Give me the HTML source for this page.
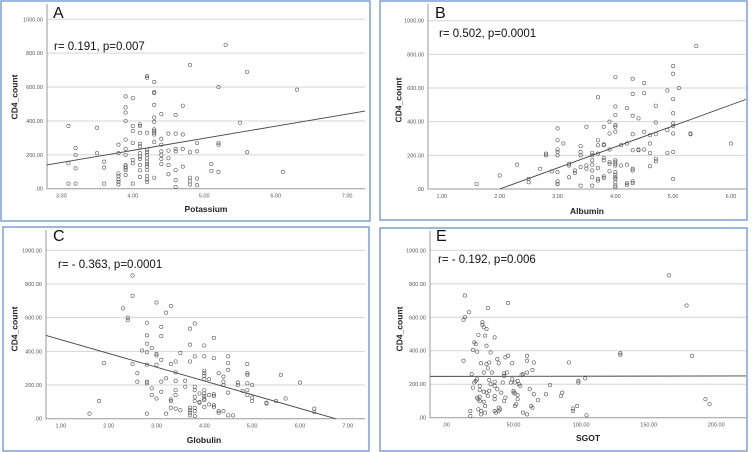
<!DOCTYPE html>
<html><head><meta charset="utf-8"><style>
html,body{margin:0;padding:0;background:#fff;}
svg{display:block;font-family:"Liberation Sans",sans-serif;}
</style></head><body>
<svg id="chart" width="753" height="452" viewBox="0 0 753 452" xmlns="http://www.w3.org/2000/svg"></svg>
<script>
const yTicks = [0,200,400,600,800,1000];
const yTickLabels = [".00","200.00","400.00","600.00","800.00","1000.00"];

const aTicks = [3,4,5,6,7];
const aTickLabels = ["3.00","4.00","5.00","6.00","7.00"];
const aX = [3.1,3.1,3.1,3.2,3.2,3.2,3.2,3.5,3.5,3.6,3.6,3.6,3.8,3.8,3.8,3.8,3.8,3.8,3.8,3.9,3.9,3.9,3.9,3.9,3.9,3.9,3.9,3.9,3.9,3.9,3.9,4.0,4.0,4.0,4.0,4.0,4.0,4.0,4.1,4.1,4.1,4.1,4.1,4.1,4.1,4.1,4.1,4.1,4.1,4.2,4.2,4.2,4.2,4.2,4.2,4.2,4.2,4.2,4.2,4.2,4.2,4.2,4.2,4.3,4.3,4.3,4.3,4.3,4.3,4.3,4.3,4.3,4.3,4.3,4.3,4.4,4.4,4.4,4.4,4.4,4.4,4.4,4.5,4.5,4.5,4.5,4.5,4.6,4.6,4.6,4.6,4.6,4.6,4.6,4.7,4.7,4.7,4.7,4.8,4.8,4.8,4.8,4.8,4.9,4.9,4.9,4.9,5.1,5.1,5.2,5.2,5.2,5.2,5.3,5.5,5.6,5.6,6.1,6.3];
const aY = [370,150,30,240,200,120,30,360,210,160,125,30,260,210,90,75,55,40,25,545,480,450,400,290,235,200,140,130,120,110,80,535,370,340,270,170,150,30,380,370,330,265,250,210,190,175,140,110,70,665,655,330,230,215,200,180,160,145,130,110,75,55,40,630,570,565,495,420,395,350,340,330,320,275,65,440,295,260,220,200,175,145,325,225,180,140,85,435,325,235,220,110,50,10,490,320,235,130,730,215,65,45,25,270,220,60,20,145,105,600,270,260,100,850,390,690,215,100,585];
const aFit = [71.5,-60];

const bTicks = [1,2,3,4,5,6];
const bTickLabels = ["1.00","2.00","3.00","4.00","5.00","6.00"];
const bX = [1.6,2.0,2.3,2.5,2.5,2.7,2.8,2.8,2.9,3.0,3.0,3.0,3.0,3.0,3.0,3.0,3.0,3.0,3.1,3.2,3.2,3.2,3.3,3.3,3.4,3.4,3.4,3.4,3.4,3.5,3.5,3.5,3.6,3.6,3.6,3.6,3.6,3.6,3.6,3.7,3.7,3.7,3.7,3.7,3.7,3.7,3.8,3.8,3.8,3.8,3.8,3.8,3.8,3.9,3.9,3.9,3.9,3.9,3.9,4.0,4.0,4.0,4.0,4.0,4.0,4.0,4.0,4.0,4.0,4.0,4.0,4.0,4.0,4.0,4.0,4.0,4.1,4.1,4.2,4.2,4.2,4.2,4.2,4.3,4.3,4.3,4.3,4.3,4.3,4.3,4.3,4.3,4.4,4.4,4.4,4.5,4.5,4.5,4.5,4.6,4.6,4.6,4.6,4.7,4.7,4.7,4.7,4.7,4.9,4.9,4.9,5.0,5.0,5.0,5.0,5.0,5.0,5.0,5.0,5.0,5.1,5.3,5.3,5.4,6.0];
const bY = [30,80,145,60,40,120,210,200,105,360,290,235,220,200,100,45,30,30,270,150,140,70,110,95,255,220,200,130,20,370,140,120,215,200,170,145,110,70,20,545,290,260,210,125,60,50,370,265,260,185,170,75,65,400,330,235,160,150,105,665,490,440,380,370,340,170,160,150,140,100,85,70,60,40,20,10,260,140,480,270,145,35,25,655,565,435,325,230,120,110,45,35,420,235,230,630,570,340,235,320,270,215,135,495,395,325,180,165,585,350,215,730,685,535,450,390,375,330,220,60,600,330,325,850,270];
const bFit = [125,-250];

const cTicks = [1,2,3,4,5,6,7];
const cTickLabels = ["1.00","2.00","3.00","4.00","5.00","6.00","7.00"];
const cX = [1.6,1.8,1.9,2.3,2.4,2.4,2.5,2.5,2.5,2.6,2.6,2.7,2.8,2.8,2.8,2.8,2.8,2.8,2.8,2.8,2.9,2.9,2.9,3.0,3.0,3.0,3.0,3.0,3.1,3.1,3.1,3.1,3.1,3.2,3.2,3.2,3.3,3.3,3.3,3.3,3.3,3.4,3.4,3.4,3.4,3.4,3.4,3.5,3.5,3.6,3.6,3.7,3.7,3.7,3.7,3.7,3.7,3.7,3.8,3.8,3.8,3.8,3.8,3.8,3.8,3.8,3.8,3.9,3.9,3.9,4.0,4.0,4.0,4.0,4.0,4.0,4.0,4.0,4.0,4.0,4.0,4.0,4.1,4.1,4.1,4.2,4.2,4.2,4.2,4.2,4.2,4.3,4.3,4.3,4.4,4.4,4.4,4.4,4.5,4.5,4.5,4.5,4.5,4.6,4.7,4.7,4.8,4.9,4.9,4.9,4.9,4.9,4.9,5.0,5.0,5.0,5.3,5.3,5.5,5.6,5.7,6.0,6.3,6.3];
const cY = [30,105,330,655,600,585,850,730,325,270,220,405,570,495,445,395,320,220,210,30,420,180,140,690,385,375,320,120,545,490,350,220,160,630,240,30,670,325,115,105,65,340,275,225,170,140,60,390,50,225,190,535,440,340,65,50,35,20,565,370,190,170,130,105,65,45,15,150,100,95,435,370,285,270,255,235,170,150,135,120,110,70,235,140,85,480,360,145,135,80,70,270,45,35,250,220,200,45,370,330,290,155,20,20,215,200,165,325,270,260,210,170,140,200,125,105,95,90,105,260,120,215,60,40];
const cFit = [-81.7,551];

const eTicks = [0,50,100,150,200];
const eTickLabels = [".00","50.00","100.00","150.00","200.00"];
const eX = [13,14,14,13,17,18,18,19,20,20,21,21,22,22,23,23,24,23,24,25,25,25,25,26,26,26,24,27,27,28,28,28,28,29,29,29,30,30,30,30,31,31,31,32,32,33,32,33,34,36,36,36,36,36,36,37,38,38,39,39,39,40,41,42,43,43,43,44,44,45,46,46,48,49,49,50,50,51,51,51,52,53,53,53,54,55,56,57,57,60,60,60,60,62,63,64,64,65,65,68,74,77,85,86,91,94,94,97,98,98,103,104,129,129,165,178,182,192,195];
const eY = [585,600,730,340,630,40,10,260,405,180,210,450,440,220,395,230,495,120,110,190,165,125,100,325,20,40,50,570,555,540,270,155,95,490,30,70,530,430,320,150,655,295,130,330,225,200,160,390,270,480,215,190,130,110,40,30,350,170,325,60,40,50,150,210,265,250,100,360,120,270,370,685,210,325,230,150,160,145,70,210,80,220,135,110,200,190,255,260,30,370,340,270,20,170,70,60,285,330,140,105,140,195,130,150,330,55,40,70,220,210,235,15,385,375,850,670,370,110,80];
const eFit = [0.01,247];

const panels = [
 {id:"a",letter:"A",stat:"r= 0.191, p=0.007",xt:"Potassium",box:[1,1,369,220],pl:47,pr:365,pt:19.3,pb:188.7,xmin:2.8,xmax:7.25,ticks:aTicks,tl:aTickLabels,xs:aX,ys:aY,fit:aFit,L:[53,18],R:[54,50],Y:[15,97],X:[206,212]},
 {id:"b",letter:"B",stat:"r= 0.502, p=0.0001",xt:"Albumin",box:[380,1,367,219],pl:428,pr:746,pt:20.7,pb:189,xmin:0.76,xmax:6.26,ticks:bTicks,tl:bTickLabels,xs:bX,ys:bY,fit:bFit,L:[435,18],R:[439,37],Y:[399,100],X:[587,214]},
 {id:"c",letter:"C",stat:"r=  - 0.363, p=0.0001",xt:"Globulin",box:[3,227,366,224],pl:46,pr:365,pt:250.3,pb:418.7,xmin:0.69,xmax:7.36,ticks:cTicks,tl:cTickLabels,xs:cX,ys:cY,fit:cFit,L:[53,241],R:[58,268],Y:[15,329],X:[204,443]},
 {id:"e",letter:"E",stat:"r=  - 0.192, p=0.006",xt:"SGOT",box:[380,228,367,223],pl:430,pr:746,pt:250.3,pb:417.7,xmin:-11.8,xmax:222,ticks:eTicks,tl:eTickLabels,xs:eX,ys:eY,fit:eFit,L:[436,241],R:[438,263],Y:[400,329],X:[588,441]}
];
const NS="http://www.w3.org/2000/svg";
const svg=document.getElementById("chart");
function mk(tag,attrs,parent){const e=document.createElementNS(NS,tag);for(const k in attrs)e.setAttribute(k,attrs[k]);(parent||svg).appendChild(e);return e;}
panels.forEach(p=>{
  const g=mk("g",{});
  
  
  const sx=v=>p.pl+(v-p.xmin)/(p.xmax-p.xmin)*(p.pr-p.pl);
  const sy=v=>p.pb-v/1000*(p.pb-p.pt);
  const b=mk("rect",{x:p.box[0],y:p.box[1],width:p.box[2],height:p.box[3],fill:"none",stroke:"#7c9fd6","stroke-width":1.5},g);
  
  
  yTicks.forEach((t,i)=>{
    if(t>0){const gl=mk("line",{x1:p.pl,x2:p.pr,y1:sy(t),y2:sy(t),stroke:"#d4d4d4","stroke-width":1},g);
    
    }
    const tx=mk("text",{x:p.pl-4,y:sy(t)+2,"font-size":5.5,fill:"#555","text-anchor":"end"},g);
    tx.textContent=yTickLabels[i];
    
    
  });
  const ax=mk("path",{d:`M${p.pl} ${p.box[1]+3} V${p.pb} H${p.pr}`,fill:"none",stroke:"#999","stroke-width":1},g);
  
  
  p.ticks.forEach((t,i)=>{
    const tx=mk("text",{x:sx(t),y:p.pb+9,"font-size":5.5,fill:"#555","text-anchor":"middle"},g);
    tx.textContent=p.tl[i];
    
    
  });
  // fit line clipped to plot
  let x0=p.xmin,x1=p.xmax;const m=p.fit[0],c=p.fit[1];
  if(m>0){x0=Math.max(x0,-c/m);} else if(m<0){x1=Math.min(x1,-c/m);}
  const fl=mk("line",{x1:sx(x0),y1:sy(m*x0+c),x2:sx(x1),y2:sy(m*x1+c),stroke:"#444","stroke-width":0.9},g);
  
  
  p.xs.forEach((v,i)=>{
    const pt=mk("circle",{cx:sx(v),cy:sy(p.ys[i]),r:1.7,fill:"none",stroke:"#555","stroke-width":0.6},g);
    
    
  });
  const L=mk("text",{x:p.L[0],y:p.L[1],"font-size":16,fill:"#111"},g);L.textContent=p.letter;
  
  
  const R=mk("text",{x:p.R[0],y:p.R[1],"font-size":11.5,fill:"#111"},g);R.textContent=p.stat;
  
  
  const Y=mk("text",{x:p.Y[0],y:p.Y[1],"font-size":8.5,"font-weight":"bold",fill:"#222","text-anchor":"middle",transform:`rotate(-90 ${p.Y[0]} ${p.Y[1]})`,"dominant-baseline":"middle"},g);Y.textContent="CD4_count";
  
  
  const X=mk("text",{x:p.X[0],y:p.X[1],"font-size":8.5,"font-weight":"bold",fill:"#222","text-anchor":"middle"},g);X.textContent=p.xt;
  
  
});
</script>
</body></html>
